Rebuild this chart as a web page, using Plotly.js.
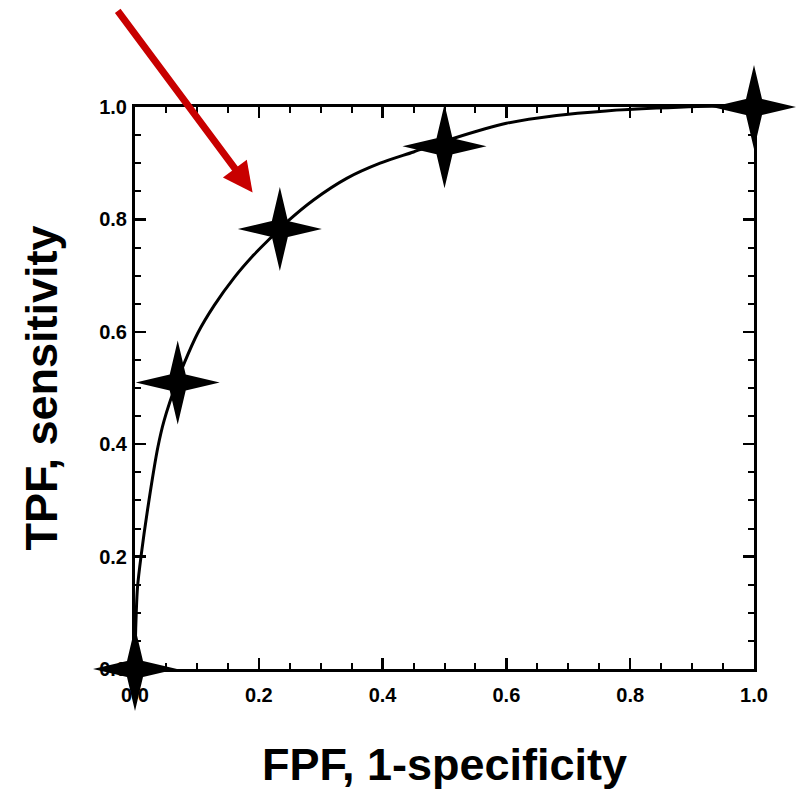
<!DOCTYPE html>
<html>
<head>
<meta charset="utf-8">
<script src="https://cdn.plot.ly/plotly-3.0.1.min.js"></script>
<style>
  html, body { margin: 0; padding: 0; background: #ffffff; }
  #chart { width: 800px; height: 793px; }
</style>
</head>
<body>
<div id="chart"></div>
<script>
// ROC curve
var curveFPF = [0, 0.0005, 0.002, 0.004, 0.0097, 0.022, 0.037, 0.047, 0.069, 0.079, 0.101, 0.128, 0.160, 0.192, 0.219, 0.246, 0.289, 0.342, 0.396, 0.450, 0.514, 0.600, 0.681, 0.761, 0.842, 0.948, 1.0];
var curveTPF = [0, 0.045, 0.100, 0.145, 0.200, 0.296, 0.395, 0.442, 0.515, 0.543, 0.597, 0.647, 0.696, 0.737, 0.767, 0.796, 0.835, 0.873, 0.900, 0.920, 0.944, 0.971, 0.985, 0.993, 0.998, 1.002, 1.0];

// Operating points (stars)
var pointFPF = [0, 0.069, 0.234, 0.500, 1.0];
var pointTPF = [0, 0.510, 0.783, 0.930, 1.0];

// Arrow annotation target
var arrowTipFPF = 0.19;
var arrowTipTPF = 0.848;

// Tick values / labels
var tickVals = [0, 0.2, 0.4, 0.6, 0.8, 1.0];
var tickText = ['0.0', '0.2', '0.4', '0.6', '0.8', '1.0'];
var minorTickVals = [0.05, 0.1, 0.15, 0.25, 0.3, 0.35, 0.45, 0.5, 0.55, 0.65, 0.7, 0.75, 0.85, 0.9, 0.95];

var xTitle = 'FPF, 1-specificity';
var yTitle = 'TPF, sensitivity';

var tickFont = { family: 'Liberation Sans, Arial, sans-serif', size: 20, color: '#000', weight: 'bold' };
var titleFont = { family: 'Liberation Sans, Arial, sans-serif', size: 45, color: '#000', weight: 'bold' };

function axisStyle() {
  return {
    range: [0, 1],
    tickmode: 'array',
    tickvals: tickVals,
    ticktext: tickText,
    ticks: 'inside',
    ticklen: 11,
    tickwidth: 2.5,
    tickcolor: '#000',
    showline: true,
    linecolor: '#000',
    linewidth: 3,
    mirror: 'allticks',
    showgrid: false,
    zeroline: false,
    tickfont: tickFont,
    minor: { tickmode: 'array', tickvals: minorTickVals, ticks: 'inside', ticklen: 6, tickwidth: 2, tickcolor: '#000', showgrid: false },
    fixedrange: true
  };
}

var xaxis = axisStyle();
xaxis.title = { text: xTitle, font: titleFont, standoff: 44 };
xaxis.ticklabelstandoff = 6;
var yaxis = axisStyle();
yaxis.title = { text: yTitle, font: titleFont, standoff: 28 };
yaxis.ticklabelstandoff = 1;

var traces = [
  {
    x: curveFPF, y: curveTPF,
    type: 'scatter', mode: 'lines',
    line: { color: '#000', width: 3, shape: 'spline', smoothing: 0.8 },
    cliponaxis: false, hoverinfo: 'skip', showlegend: false
  },
  {
    x: pointFPF, y: pointTPF,
    type: 'scatter', mode: 'markers',
    marker: { symbol: 'star-diamond', size: 30, color: '#000', line: { width: 0 } },
    cliponaxis: false, showlegend: false
  }
];

var layout = {
  width: 800, height: 793,
  margin: { l: 135, r: 46, t: 107, b: 124 },
  paper_bgcolor: '#fff',
  plot_bgcolor: '#fff',
  xaxis: xaxis,
  yaxis: yaxis,
  showlegend: false,
  annotations: [{
    x: arrowTipFPF, y: arrowTipTPF, xref: 'x', yref: 'y',
    text: '', showarrow: true,
    arrowhead: 2, arrowsize: 0.85, arrowwidth: 7, arrowcolor: '#c80000',
    ax: -136, ay: -183
  }]
};

var gd = document.getElementById('chart');
Plotly.newPlot(gd, traces, layout, { displayModeBar: false, staticPlot: true }).then(function () {
  // thin four-pointed star glyph for the operating-point markers
  var L = 42, a = 8;
  var star = 'M0,-' + L + 'L' + a + ',-' + a + 'L' + L + ',0L' + a + ',' + a +
             'L0,' + L + 'L-' + a + ',' + a + 'L-' + L + ',0L-' + a + ',-' + a + 'Z';
  var pts = gd.querySelectorAll('.scatterlayer path.point');
  pts.forEach(function (p) { p.setAttribute('d', star); });
});
</script>
</body>
</html>
